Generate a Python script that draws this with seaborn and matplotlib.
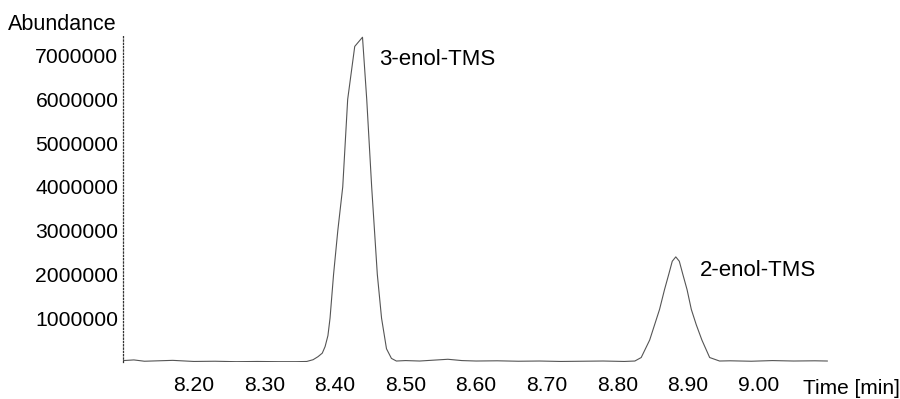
import matplotlib
matplotlib.use('Agg')
import matplotlib.pyplot as plt
import seaborn as sns

# retention time [min] and abundance
time_min = [
    8.100, 8.115, 8.130, 8.150, 8.170, 8.200, 8.230, 8.260, 8.290, 8.320,
    8.345, 8.360, 8.369, 8.376, 8.382, 8.386, 8.390, 8.393, 8.398, 8.404,
    8.411, 8.418, 8.428, 8.439, 8.445, 8.452, 8.456, 8.460, 8.466, 8.473,
    8.480, 8.487, 8.500, 8.520, 8.540, 8.560, 8.580, 8.600, 8.630, 8.660,
    8.690, 8.720, 8.750, 8.780, 8.810, 8.825, 8.834, 8.846, 8.853, 8.860,
    8.867, 8.873, 8.878, 8.883, 8.888, 8.893, 8.899, 8.905, 8.912, 8.920,
    8.931, 8.945, 8.960, 8.990, 9.020, 9.050, 9.080, 9.098,
]
abundance = [
    30000, 45000, 15000, 25000, 35000, 10000, 15000, 5000, 10000, 5000,
    5000, 10000, 50000, 120000, 200000, 350000, 600000, 1000000, 2000000, 3000000,
    4000000, 6000000, 7210000, 7420000, 6000000, 4000000, 3000000, 2000000, 1000000, 300000,
    80000, 20000, 30000, 20000, 40000, 60000, 30000, 20000, 25000, 15000,
    20000, 10000, 15000, 20000, 10000, 20000, 100000, 500000, 850000, 1200000,
    1650000, 2000000, 2300000, 2400000, 2300000, 2000000, 1650000, 1200000, 850000, 500000,
    100000, 20000, 25000, 15000, 30000, 20000, 25000, 20000,
]

peak_names = ['3-enol-TMS', '2-enol-TMS']
peak_label_x = [8.462, 8.917]
peak_label_y = [6900000, 2100000]

x_ticks = [8.20, 8.30, 8.40, 8.50, 8.60, 8.70, 8.80, 8.90, 9.00]
y_ticks = [1000000, 2000000, 3000000, 4000000, 5000000, 6000000, 7000000]

sns.set_style('white')
plt.rcParams['font.family'] = ['Liberation Sans', 'DejaVu Sans']

fig = plt.figure(figsize=(9, 3.99), dpi=100)
ax = fig.add_axes([0.137, 0.093, 0.784, 0.817])

sns.lineplot(x=time_min, y=abundance, ax=ax, estimator=None, sort=False,
             color='#555555', linewidth=0.8)

for name, lx, ly in zip(peak_names, peak_label_x, peak_label_y):
    ax.text(lx, ly, name, fontsize=16, va='center', ha='left', color='black')

ax.set_xlim(8.10, 9.10)
ax.set_ylim(0, 7450000)
ax.set_xticks(x_ticks)
ax.set_xticklabels([f'{t:.2f}' for t in x_ticks])
ax.set_yticks(y_ticks)
ax.set_yticklabels([str(v) for v in y_ticks])
ax.tick_params(axis='both', length=0, labelsize=15.2, labelcolor='black')
ax.tick_params(axis='x', pad=10)
ax.tick_params(axis='y', pad=3.5)

for side in ['top', 'right', 'bottom']:
    ax.spines[side].set_visible(False)
ax.spines['left'].set_linestyle(':')
ax.spines['left'].set_linewidth(0.9)
ax.spines['left'].set_color('#333333')

fig.text(117 / 900, 1 - 24 / 399, 'Abundance', fontsize=15.5, ha='right', va='center',
         color='black')
fig.text(803 / 900, 1 - 389 / 399, 'Time [min]', fontsize=15, ha='left', va='center',
         color='black')

plt.savefig('out.png', dpi=100)
